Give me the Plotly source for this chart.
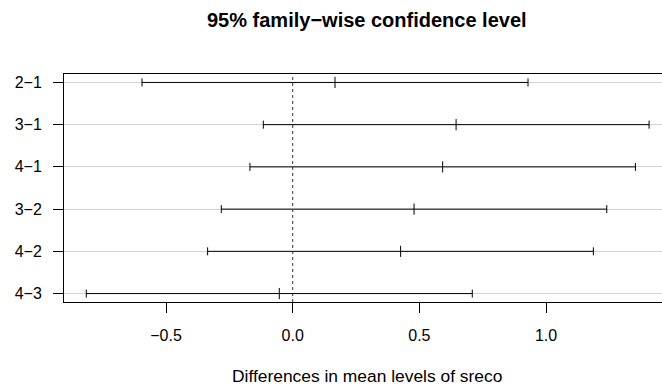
import plotly.graph_objects as go

comparisons = ["2−1", "3−1", "4−1", "3−2", "4−2", "4−3"]
diff = [0.167, 0.645, 0.592, 0.479, 0.426, -0.053]
lwr = [-0.595, -0.116, -0.169, -0.282, -0.336, -0.815]
upr = [0.929, 1.407, 1.353, 1.240, 1.187, 0.709]
x_ticks = [-0.5, 0.0, 0.5, 1.0]
x_ticktext = ["−0.5", "0.0", "0.5", "1.0"]

n = len(comparisons)
yvals = list(range(n, 0, -1))

W, H = 662, 385
ml, mr, mt, mb = 64, 0, 74, 83
FONT = "Liberation Sans, Arial, sans-serif"

fig = go.Figure()
fig.add_trace(go.Scatter(
    x=diff, y=yvals, mode="markers",
    marker=dict(symbol="line-ns", size=8, line=dict(width=1, color="black"), color="black"),
    error_x=dict(type="data", symmetric=False,
                 array=[u - d for u, d in zip(upr, diff)],
                 arrayminus=[d - l for d, l in zip(diff, lwr)],
                 thickness=1, width=4, color="black"),
    showlegend=False, hoverinfo="skip",
))

fig.add_shape(type="line", x0=0, x1=0, y0=0, y1=1, xref="x", yref="paper",
              line=dict(color="#333", width=1, dash="dot"), layer="below")

plot_h = H - mt - mb
plot_w = W - ml - mr
cx = (367 - ml) / plot_w

fig.add_annotation(text="<b>95% family−wise confidence level</b>", x=cx, y=1 + (mt - 20) / plot_h,
                   xref="paper", yref="paper", showarrow=False, xanchor="center", yanchor="middle",
                   font=dict(family=FONT, size=20, color="black"))
fig.add_annotation(text="Differences in mean levels of sreco", x=cx, y=-(376 - (H - mb)) / plot_h,
                   xref="paper", yref="paper", showarrow=False, xanchor="center", yanchor="middle",
                   font=dict(family=FONT, size=17.4, color="black"))

fig.update_layout(
    width=W, height=H,
    margin=dict(l=ml, r=mr, t=mt, b=mb, pad=0),
    plot_bgcolor="white", paper_bgcolor="white",
    font=dict(family=FONT, size=16, color="black"),
    xaxis=dict(range=[-0.903, 1.458], tickvals=x_ticks, ticktext=x_ticktext,
               showgrid=False, zeroline=False, showline=True, mirror=True,
               linecolor="black", linewidth=1, ticks="outside", ticklen=10,
               tickcolor="black", tickwidth=1, ticklabelstandoff=9),
    yaxis=dict(range=[0.8, 6.2], tickvals=yvals, ticktext=comparisons,
               showgrid=True, gridcolor="#d3d3d3", gridwidth=1, zeroline=False,
               showline=True, mirror=False, linecolor="black", linewidth=1,
               ticks="outside", ticklen=10, tickcolor="black", tickwidth=1,
               ticklabelstandoff=8),
)

fig.write_html("out.html", config={"displayModeBar": False},
               post_script="document.body.style.margin='0px';document.body.style.padding='0px';")
